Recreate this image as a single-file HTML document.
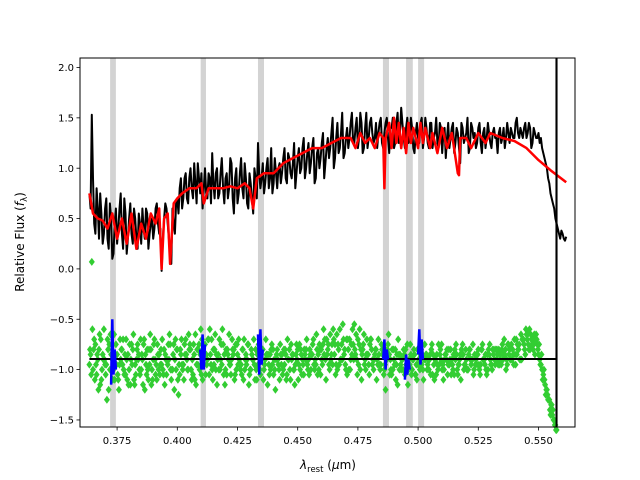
<!DOCTYPE html>
<html><head><meta charset="utf-8"><style>
body{margin:0;background:#fff;}
svg{display:block;font-family:"DejaVu Sans","Liberation Sans",sans-serif;}
</style></head><body>
<svg id="chart" width="640" height="480" viewBox="0 0 640 480" xmlns="http://www.w3.org/2000/svg">
<rect width="640" height="480" fill="#fff"/>
<g id="bands"></g>
<g id="series"></g>
<g id="axes"></g>
<text transform="translate(24,242) rotate(-90)" text-anchor="middle" font-size="12">Relative Flux (<tspan font-style="italic">f</tspan><tspan font-size="8.5" dy="3">λ</tspan><tspan dy="-3">)</tspan></text>
<text x="328" y="469" text-anchor="middle" font-size="12"><tspan font-style="italic">λ</tspan><tspan font-size="8.5" dy="3">rest</tspan><tspan dy="-3"> (</tspan><tspan font-style="italic">μ</tspan>m)</text>
</svg>
<script>
const xTicks=[0.375,0.400,0.425,0.450,0.475,0.500,0.525,0.550];
const xTickLabels=["0.375","0.400","0.425","0.450","0.475","0.500","0.525","0.550"];
const yTicks=[2.0,1.5,1.0,0.5,0.0,-0.5,-1.0,-1.5];
const yTickLabels=["2.0","1.5","1.0","0.5","0.0","−0.5","−1.0","−1.5"];
const bandLo=[0.3721,0.4097,0.4335,0.4854,0.4950,0.5000];
const bandHi=[0.3745,0.4119,0.4360,0.4879,0.4978,0.5025];
const blackStart=0.3635, blackStep=0.001;
const blackFlux=[0.75,1.53,0.45,0.8,0.3,0.55,0.35,0.7,0.2,0.5,
0.15,0.6,0.4,0.75,0.2,0.55,0.3,0.65,0.25,0.5,
0.2,0.45,0.6,0.3,0.55,0.35,0.5,0.4,0.65,0.35,
-0.02,0.5,0.6,0.3,0.05,0.45,0.65,0.55,0.9,0.7,
0.95,0.65,1.0,0.7,0.85,1.05,0.75,0.6,1.0,0.7,
0.9,1.15,0.7,1.0,0.75,1.1,0.65,0.95,0.8,1.05,
0.55,1.0,0.75,1.1,0.7,0.9,0.6,0.85,0.55,0.9,
1.25,0.8,1.05,0.85,1.1,0.9,0.75,1.1,0.8,1.05,
0.95,1.2,0.85,1.1,0.9,1.25,0.95,1.2,1.0,1.3,
1.0,1.25,1.05,1.3,0.9,1.2,1.1,1.35,1.05,1.3,
1.2,1.5,1.1,1.45,1.2,1.55,1.15,1.4,1.3,1.55,
1.25,1.5,1.3,1.45,1.2,1.55,1.3,1.5,1.25,1.45,
1.35,1.5,1.2,1.45,1.3,1.4,1.5,1.25,1.55,1.35,
1.45,1.2,1.5,1.3,1.4,1.15,1.45,1.25,1.5,1.3,
1.4,1.2,1.45,1.3,1.5,1.2,1.4,1.35,1.1,1.45,
1.3,1.45,1.25,1.35,1.05,1.4,1.3,1.5,1.2,1.4,
1.35,1.25,1.45,1.15,1.4,1.3,1.35,1.2,1.4,1.3,
1.35,1.25,1.4,1.3,1.35,1.4,1.3,1.45,1.35,1.4,
1.3,1.45,1.35,1.4,1.25,1.35,1.3,1.25,1.2,1.1,
1.0,0.85,0.7,0.6,0.45,0.35,0.38,0.3,0.32];
const blackFlux2=[0.6,0.9,0.35,0.6,0.75,0.25,0.6,0.3,0.65,0.1,
0.45,0.25,0.6,0.35,0.7,0.15,0.5,0.35,0.6,0.3,
0.55,0.25,0.4,0.6,0.2,0.45,0.3,0.6,0.45,0.4,
0.3,0.65,0.45,0.15,0.6,0.35,0.7,0.8,0.6,0.9,
0.7,0.9,0.8,1.05,0.65,0.9,0.95,0.8,0.75,0.95,
0.65,0.85,0.95,0.7,0.95,0.8,0.9,0.7,1.1,0.7,
0.9,0.65,0.95,0.8,1.05,0.65,0.95,0.7,1.0,0.7,
0.95,0.9,0.75,1.0,0.8,1.2,0.85,0.95,1.0,0.85,
1.1,0.9,1.15,0.95,1.05,0.8,1.1,0.95,1.2,0.9,
1.15,0.95,1.2,0.85,1.15,1.0,1.25,0.9,1.2,1.1,
1.35,1.0,1.3,1.15,1.35,1.1,1.3,1.2,1.45,1.25,
1.4,1.2,1.55,1.15,1.4,1.2,1.45,1.35,1.3,1.2,
1.45,1.25,1.35,1.5,1.15,1.4,1.2,1.45,1.25,1.6,
1.3,1.4,1.25,1.5,1.2,1.35,1.3,1.45,1.2,1.5,
1.25,1.45,1.2,1.35,1.25,1.45,1.15,1.4,1.3,1.2,
1.4,1.15,1.4,1.2,1.45,1.25,1.35,1.15,1.45,1.3,
1.2,1.4,1.25,1.35,1.2,1.45,1.25,1.35,1.3,1.15,
1.4,1.3,1.2,1.45,1.25,1.35,1.3,1.5,1.3,1.35,
1.4,1.3,1.45,1.2,1.4,1.3,1.35,1.3,1.15,1.05,
0.9,0.75,0.65,0.5,0.4,0.3,0.35,0.28];
const redWave=[0.3635,0.365,0.367,0.369,0.371,0.373,0.375,0.377,0.379,0.381,0.383,0.385,0.387,0.389,0.391,0.3925,0.3935,0.3945,0.396,0.397,0.3985,0.4,0.402,0.405,0.408,0.41,0.411,0.413,0.416,0.419,0.422,0.425,0.428,0.43,0.4315,0.433,0.436,0.44,0.444,0.448,0.452,0.456,0.46,0.464,0.468,0.472,0.474,0.476,0.478,0.48,0.482,0.484,0.4855,0.486,0.4865,0.488,0.489,0.49,0.491,0.492,0.493,0.494,0.495,0.496,0.497,0.498,0.5,0.501,0.502,0.503,0.505,0.506,0.508,0.51,0.512,0.514,0.5165,0.517,0.5175,0.52,0.522,0.525,0.528,0.53,0.535,0.54,0.545,0.55,0.555,0.5615];
const redFlux=[0.75,0.55,0.5,0.48,0.4,0.55,0.3,0.5,0.25,0.55,0.2,0.45,0.3,0.55,0.45,0.6,0.0,0.5,0.55,0.05,0.65,0.7,0.75,0.8,0.8,0.85,0.65,0.8,0.8,0.8,0.82,0.8,0.85,0.8,0.6,0.9,0.95,0.95,1.05,1.1,1.15,1.2,1.2,1.25,1.3,1.3,1.2,1.35,1.25,1.3,1.2,1.35,1.3,0.8,1.3,1.45,1.2,1.5,1.25,1.45,1.2,1.4,1.15,1.45,1.25,1.4,1.2,1.45,1.25,1.4,1.2,1.35,1.15,1.4,1.2,1.35,0.95,0.93,1.3,1.3,1.2,1.35,1.25,1.35,1.3,1.27,1.2,1.08,0.98,0.86];
const greenStart=0.3635, greenStep=0.001;
const residA=[-0.95,0.07,-0.7,-1.05,-0.8,-1.1,-0.6,-0.95,-1.2,-0.85,
-1.0,-0.75,-1.1,-0.9,-0.7,-1.05,-0.85,-1.15,-0.8,-0.95,
-0.75,-1.05,-0.9,-1.2,-0.8,-0.95,-1.0,-0.7,-1.1,-0.85,
-0.95,-0.8,-1.05,-0.9,-1.1,-0.75,-1.0,-1.25,-0.85,-0.95,
-0.7,-1.0,-0.8,-1.05,-0.65,-0.95,-0.85,-1.1,-0.75,-0.9,
-0.6,-1.0,-0.8,-1.15,-0.7,-0.95,-0.85,-1.05,-0.65,-0.9,
-0.8,-1.0,-0.7,-0.95,-1.1,-0.85,-0.75,-1.0,-0.9,-0.8,
-0.95,-1.05,-0.8,-0.9,-1.15,-0.85,-0.95,-1.0,-0.8,-1.1,
-0.85,-0.95,-1.05,-0.8,-0.9,-1.0,-0.75,-0.95,-0.85,-1.05,
-0.8,-0.9,-1.0,-0.7,-0.95,-0.85,-1.05,-0.75,-0.9,-0.8,
-0.65,-0.95,-0.75,-1.0,-0.6,-0.9,-0.8,-1.05,-0.7,-0.85,
-0.55,-0.9,-0.75,-1.1,-0.65,-0.85,-0.95,-0.7,-1.0,-0.8,
-0.7,-0.95,-0.85,-1.2,-0.75,-0.9,-1.0,-0.8,-1.15,-0.85,
-0.9,-1.05,-0.75,-0.95,-1.0,-0.85,-1.1,-0.8,-0.95,-0.9,
-0.85,-1.0,-0.8,-0.95,-1.05,-0.75,-0.9,-1.1,-0.85,-0.95,
-0.8,-1.0,-0.9,-1.05,-0.85,-0.75,-0.95,-1.0,-0.8,-0.9,
-0.85,-0.95,-1.0,-0.8,-0.9,-1.05,-0.85,-0.95,-0.8,-0.9,
-0.8,-0.95,-0.85,-1.0,-0.75,-0.9,-0.85,-0.95,-0.8,-0.9,
-0.7,-0.85,-0.65,-0.8,-0.7,-0.85,-0.75,-0.9,-1.0,-1.1,
-1.2,-1.3,-1.35,-1.5,-1.6];
const residB=[-0.85,-1.0,-0.75,-0.9,-1.15,-0.85,-0.95,-0.7,-1.0,-0.9,
-1.1,-0.85,-0.95,-0.8,-1.05,-0.9,-1.0,-0.75,-1.1,-0.9,
-0.85,-1.0,-0.75,-0.95,-1.1,-0.8,-0.9,-1.05,-0.85,-0.95,
-1.0,-0.85,-0.95,-0.75,-1.0,-0.9,-0.8,-1.05,-0.95,-0.75,
-0.9,-0.8,-1.1,-0.85,-0.95,-0.75,-1.05,-0.9,-0.85,-0.7,
-0.95,-0.8,-1.0,-0.85,-0.9,-0.75,-1.0,-0.85,-0.95,-0.8,
-1.05,-0.85,-0.95,-0.8,-1.0,-0.9,-1.05,-0.85,-0.95,-1.1,
-0.85,-0.9,-1.0,-0.85,-0.95,-0.8,-1.05,-0.9,-0.95,-0.85,
-1.0,-0.85,-0.9,-1.1,-0.85,-0.95,-0.8,-1.0,-0.9,-0.85,
-0.95,-0.8,-0.85,-1.0,-0.8,-0.75,-0.9,-0.85,-0.7,-0.95,
-0.85,-0.7,-0.95,-0.8,-0.9,-0.7,-1.0,-0.8,-0.9,-0.75,
-0.85,-0.7,-1.0,-0.8,-0.9,-0.85,-0.75,-0.95,-0.85,-0.9,
-0.95,-0.8,-1.0,-0.9,-0.85,-1.05,-0.9,-0.95,-0.85,-1.0,
-0.8,-0.95,-1.0,-0.85,-0.9,-1.05,-0.95,-0.85,-1.0,-0.9,
-0.95,-0.85,-1.05,-0.9,-0.95,-0.85,-1.0,-0.9,-0.8,-0.95,
-0.9,-1.05,-0.85,-0.95,-0.8,-1.0,-0.9,-0.85,-0.95,-1.05,
-0.9,-0.8,-0.95,-0.9,-0.85,-1.0,-0.9,-0.8,-0.95,-0.85,
-0.9,-0.75,-0.85,-0.95,-0.8,-0.9,-0.7,-0.85,-0.75,-0.9,
-0.75,-0.65,-0.8,-0.7,-0.75,-0.65,-0.85,-0.95,-1.05,-1.25,
-1.3,-1.45,-1.4,-1.55];
const residC=[-0.8,-0.6,-1.1,-0.85,-0.65,-1.0,-0.9,-1.3,-0.75,-1.0,
-0.65,-0.95,-1.2,-0.8,-1.0,-0.7,-1.15,-0.9,-0.65,-1.05,
-0.9,-0.7,-1.15,-0.85,-1.0,-0.65,-1.1,-0.9,-0.75,-1.05,
-0.7,-1.15,-0.9,-0.65,-1.0,-1.2,-0.8,-0.95,-0.7,-1.1,
-0.85,-0.65,-1.0,-0.75,-1.15,-0.8,-0.6,-0.95,-1.05,-0.7,
-0.85,-1.1,-0.65,-0.9,-1.0,-0.6,-1.15,-0.8,-0.95,-0.7,
-1.1,-0.75,-0.9,-1.05,-0.7,-0.95,-1.15,-0.8,-0.7,-1.0,
-0.75,-0.9,-1.1,-0.7,-0.85,-1.0,-0.8,-1.2,-0.9,-0.75,
-1.05,-0.8,-0.7,-1.0,-0.85,-1.15,-0.9,-0.75,-1.05,-0.8,
-0.7,-1.05,-0.85,-0.95,-0.65,-1.0,-0.8,-0.6,-1.1,-0.75,
-0.9,-0.6,-1.05,-0.75,-0.9,-0.55,-0.95,-0.7,-1.0,-0.6,
-0.8,-1.05,-0.6,-0.85,-0.95,-0.7,-1.05,-0.8,-0.9,-1.1,
-0.85,-0.75,-1.05,-0.9,-0.65,-1.0,-0.8,-1.1,-0.7,-0.95,
-1.0,-0.8,-1.15,-0.75,-0.9,-1.05,-0.8,-1.0,-0.85,-0.75,
-1.0,-0.9,-0.75,-1.1,-0.85,-0.95,-0.75,-1.0,-0.9,-0.8,
-1.05,-0.85,-0.75,-0.95,-1.1,-0.85,-0.8,-1.0,-0.9,-0.75,
-0.95,-0.85,-1.05,-0.75,-0.95,-0.85,-0.75,-1.0,-0.9,-0.8,
-0.95,-0.8,-0.7,-0.9,-0.85,-0.75,-0.95,-0.7,-0.8,-0.65,
-0.7,-0.6,-0.75,-0.65,-0.8,-0.7,-0.8,-0.95,-1.1,-1.15,
-1.25,-1.4,-1.45,-1.55];
const residD=[-1.05,-0.8,-0.95,-1.2,-0.7,-0.9,-1.05,-0.8,-0.65,-1.1,
-0.85,-1.05,-0.7,-0.95,-0.85,-1.1,-0.75,-0.95,-1.15,-0.8,
-1.0,-0.85,-0.7,-1.05,-0.8,-1.15,-0.75,-0.95,-1.0,-0.8,
-1.05,-0.9,-0.75,-1.0,-0.85,-0.7,-1.1,-0.8,-1.0,-0.85,
-1.0,-0.75,-0.9,-1.1,-0.8,-1.0,-0.7,-0.85,-0.95,-1.05,
-0.7,-0.95,-0.85,-1.0,-0.75,-1.05,-0.8,-0.9,-1.05,-0.85,
-0.75,-0.95,-1.0,-0.8,-0.9,-0.75,-1.0,-0.9,-1.1,-0.85,
-1.0,-0.8,-0.95,-0.85,-1.05,-0.75,-0.9,-0.85,-1.0,-0.95,
-0.8,-1.1,-0.9,-0.75,-1.0,-0.85,-1.1,-0.8,-0.95,-0.9,
-1.0,-0.85,-0.75,-0.9,-1.05,-0.8,-0.95,-0.7,-0.85,-1.0,
-0.75,-0.85,-0.65,-0.95,-0.75,-0.85,-0.7,-1.0,-0.75,-0.9,
-0.65,-0.95,-0.8,-0.75,-1.0,-0.85,-0.7,-0.9,-0.8,-0.95,
-1.0,-0.85,-0.95,-0.8,-1.05,-0.8,-0.95,-0.85,-1.0,-0.9,
-0.85,-1.0,-0.9,-1.05,-0.8,-0.95,-0.9,-0.8,-1.1,-0.85,
-0.9,-1.05,-0.85,-0.9,-1.0,-0.8,-0.95,-0.85,-1.05,-0.9,
-0.95,-0.8,-1.0,-0.9,-0.85,-0.95,-1.0,-0.8,-0.9,-1.0,
-0.85,-0.95,-0.8,-0.9,-1.0,-0.8,-0.95,-0.85,-0.8,-0.95,
-0.85,-0.9,-0.8,-0.75,-0.9,-0.8,-0.85,-0.75,-0.9,-0.7,
-0.8,-0.7,-0.6,-0.75,-0.65,-0.7,-0.75,-0.85,-1.0,-1.2,
-1.3,-1.35,-1.5,-1.6];
const blueWave=[0.3725,0.373,0.3735,0.374,0.3745,null,0.4095,0.41,0.4105,0.411,0.4115,null,0.4335,0.434,0.4345,0.435,0.4355,null,0.4855,0.486,0.4865,0.487,0.4875,null,0.4945,0.495,0.4955,0.496,0.4965,null,0.5,0.5005,0.501,0.5015,0.502];
const blueResid=[-1.15,-0.5,-1.05,-0.8,-1.0,null,-0.8,-1.0,-0.65,-1.0,-0.75,null,-0.65,-1.05,-0.6,-0.95,-0.8,null,-0.9,-0.7,-1.0,-0.8,-0.9,null,-1.1,-0.85,-1.05,-0.9,-1.0,null,-0.85,-0.6,-0.95,-0.7,-0.9];
const zeroLevel=[-0.895];
const zeroRange=[0.3635,0.5575];
const cutoffWave=[0.5575];

const L=80,R=575,T=58,B=427;
function xs(v){return 177.3+(v-0.4)*2408;}
function ys(v){return 268.9-v*100.7;}
const NS="http://www.w3.org/2000/svg";
function mk(tag,attrs,parent){const e=document.createElementNS(NS,tag);for(const k in attrs)e.setAttribute(k,attrs[k]);parent.appendChild(e);return e;}
const bands=document.getElementById('bands'),series=document.getElementById('series'),axes=document.getElementById('axes');
for(let i=0;i<bandLo.length;i++){
 const r=mk('rect',{x:xs(bandLo[i]),y:T,width:xs(bandHi[i])-xs(bandLo[i]),height:B-T,fill:'#d3d3d3'},bands);
 
 
}
const tg=mk('rect',{x:xs(cutoffWave[0])-1.5,y:T,width:1.2,height:B-T,fill:'#c8c8c8'},bands);


function pathFrom(xv,yv){let d='',pen=false;for(let i=0;i<xv.length;i++){if(xv[i]===null||yv[i]===null){pen=false;continue;}d+=(pen?'L':'M')+xs(xv[i]).toFixed(1)+' '+ys(yv[i]).toFixed(1);pen=true;}return d;}
const bw=[],bf=[];
for(let i=0;i<blackFlux.length;i++){bw.push(blackStart+i*blackStep);bf.push(blackFlux[i]);if(i<blackFlux2.length){bw.push(blackStart+0.0005+i*blackStep);bf.push(blackFlux2[i]);}}
const bp=mk('path',{d:pathFrom(bw,bf),fill:'none',stroke:'#000','stroke-width':2,'stroke-linejoin':'round'},series);


const rp=mk('path',{d:pathFrom(redWave,redFlux),fill:'none',stroke:'#ff0000','stroke-width':2.5,'stroke-linejoin':'round'},series);


const gg=mk('g',{fill:'#32cd32'},series);


function diamond(w,r){const x=xs(w),y=ys(r);const p=mk('path',{d:`M${x.toFixed(1)} ${(y-4).toFixed(1)}L${(x+3).toFixed(1)} ${y.toFixed(1)}L${x.toFixed(1)} ${(y+4).toFixed(1)}L${(x-3).toFixed(1)} ${y.toFixed(1)}Z`},gg);
 
 }
residA.forEach((r,i)=>diamond(greenStart+i*greenStep,r));
residB.forEach((r,i)=>diamond(greenStart+0.0005+i*greenStep,r));
residC.forEach((r,i)=>diamond(greenStart+0.00025+i*greenStep,r));
residD.forEach((r,i)=>diamond(greenStart+0.00075+i*greenStep,r));
const zl=mk('line',{x1:xs(zeroRange[0]),x2:xs(zeroRange[1]),y1:ys(zeroLevel[0]),y2:ys(zeroLevel[0]),stroke:'#000','stroke-width':2},series);


const vl=mk('line',{x1:xs(cutoffWave[0]),x2:xs(cutoffWave[0]),y1:T,y2:B,stroke:'#000','stroke-width':2},series);


const blp=mk('path',{d:pathFrom(blueWave,blueResid),fill:'none',stroke:'#0000ff','stroke-width':2.5},series);


const fr=mk('rect',{x:L,y:T,width:R-L,height:B-T,fill:'none',stroke:'#000','stroke-width':1},axes);


xTicks.forEach((v,i)=>{const x=xs(v);
 const t=mk('line',{x1:x,x2:x,y1:B,y2:B+3.5,stroke:'#000','stroke-width':0.8},axes);
 
 
 const tx=mk('text',{x:x,y:B+17,'text-anchor':'middle','font-size':10},axes);tx.textContent=xTickLabels[i];
 
 
});
yTicks.forEach((v,i)=>{const y=ys(v);
 const t=mk('line',{x1:L-3.5,x2:L,y1:y,y2:y,stroke:'#000','stroke-width':0.8},axes);
 
 
 const tx=mk('text',{x:L-6,y:y+3.6,'text-anchor':'end','font-size':10},axes);tx.textContent=yTickLabels[i];
 
 
});
</script>
</body></html>
